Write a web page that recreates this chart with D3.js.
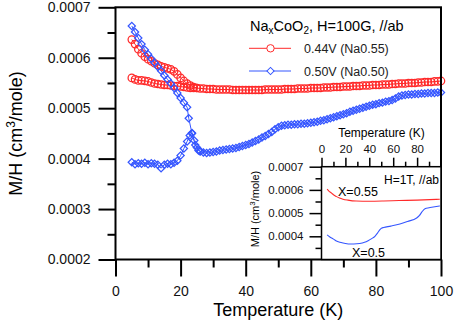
<!DOCTYPE html>
<html>
<head>
<meta charset="utf-8">
<style>
    body { margin: 0; background: #fff; }
    svg { display: block; font-family: 'Liberation Sans', Arial, sans-serif; }
    .axis .domain { display: none; }
    .main .tick line { stroke: #000; stroke-width: 2; }
    .main .tick text { font-size: 14px; fill: #111; }
    .inset .tick line { stroke: #000; stroke-width: 1.5; }
    .inset .tick text { font-size: 11.5px; fill: #111; }
</style>
</head>
<body>
<svg width="458" height="321"></svg>
<script src="https://d3js.org/d3.v7.min.js"></script>
<script>
// ---- main panel: 0.44V (Na0.55), red circles ----
let redLowT = [5, 6, 7, 8, 9, 10, 11, 12, 13, 14, 15, 16, 17, 18, 19, 20, 21, 22, 23, 24, 25]
let redLowV = [0.000560, 0.000557, 0.000555, 0.000555, 0.000554, 0.000553, 0.000551, 0.000549, 0.000548, 0.000547,
    0.000546, 0.000546, 0.000545, 0.000544, 0.000544, 0.000543, 0.000542, 0.000541, 0.000540, 0.000540, 0.000540]

let redHighT = [5, 6, 7, 8, 9, 10, 11, 12, 13, 14, 15, 16, 17, 18, 19, 20, 21, 22, 23, 24,
    25, 26, 27, 28, 29, 30, 31, 32, 33, 34, 35, 36, 37, 38, 39, 40, 41, 42, 43, 44, 45, 46, 47, 48, 49,
    50, 51, 52, 53, 54, 55, 56, 57, 58, 59, 60, 61, 62, 63, 64, 65, 66, 67, 68, 69, 70, 71, 72, 73, 74,
    75, 76, 77, 78, 79, 80, 81, 82, 83, 84, 85, 86, 87, 88, 89, 90, 91, 92, 93, 94, 95, 96, 97, 98, 99, 100]
let redHighV = [0.000636, 0.000627, 0.000617, 0.000609, 0.000602, 0.000597, 0.000593, 0.000589, 0.000586, 0.000583,
    0.000581, 0.000579, 0.000577, 0.000573, 0.000567, 0.000560, 0.000554, 0.000549, 0.000545, 0.000542,
    0.000540, 0.000539, 0.000539, 0.000538, 0.000538, 0.000538, 0.000537, 0.000537, 0.000537, 0.000537,
    0.000537, 0.000536, 0.000536, 0.000536, 0.000536, 0.000536, 0.000536, 0.000536, 0.000536, 0.000536,
    0.000536, 0.000537, 0.000537, 0.000537, 0.000537, 0.000537, 0.000537, 0.000538, 0.000538, 0.000538,
    0.000538, 0.000539, 0.000539, 0.000539, 0.000539, 0.000540, 0.000540, 0.000540, 0.000540, 0.000541,
    0.000541, 0.000541, 0.000542, 0.000542, 0.000542, 0.000543, 0.000543, 0.000543, 0.000544, 0.000544,
    0.000544, 0.000545, 0.000545, 0.000545, 0.000546, 0.000546, 0.000546, 0.000547, 0.000547, 0.000547,
    0.000548, 0.000548, 0.000549, 0.000549, 0.000549, 0.000550, 0.000550, 0.000550, 0.000551, 0.000551,
    0.000552, 0.000552, 0.000552, 0.000553, 0.000553, 0.000554]

// ---- main panel: 0.50V (Na0.50), blue diamonds ----
let blueLowT = [5, 6, 7, 8, 9, 10, 11, 12, 13, 14, 15, 16, 17, 18, 19, 20, 21, 22, 22.8, 23.5, 24.2, 25, 26]
let blueLowV = [0.000393, 0.000389, 0.000391, 0.000390, 0.000392, 0.000389, 0.000391, 0.000390, 0.000388, 0.000381,
    0.000388, 0.000390, 0.000389, 0.000392, 0.000396, 0.000406, 0.000420, 0.000434, 0.000446, 0.000451,
    0.000436, 0.000422, 0.000415]

let blueHighT = [5, 6, 7, 8, 9, 10, 11, 12, 13, 14, 15, 16, 17, 18, 19, 20, 21, 22, 22.5, 23.5, 24.5, 25.5,
    26, 27, 28, 29, 30, 31, 32, 33, 34, 35, 36, 37, 38, 39, 40, 41, 42, 43, 44, 45, 46, 47, 48, 49,
    50, 51, 52, 53, 54, 55, 56, 57, 58, 59, 60, 61, 62, 63, 64, 65, 66, 67, 68, 69, 70, 71, 72, 73, 74,
    75, 76, 77, 78, 79, 80, 81, 82, 83, 84, 85, 86, 87, 88, 89, 90, 91, 92, 93, 94, 95, 96, 97, 98, 99, 100]
let blueHighV = [0.000663, 0.000651, 0.000639, 0.000627, 0.000616, 0.000607, 0.000598, 0.000590, 0.000582, 0.000574,
    0.000565, 0.000557, 0.000549, 0.000540, 0.000530, 0.000520, 0.000511, 0.000502, 0.000480, 0.000450,
    0.000427, 0.000416,
    0.000414, 0.000412, 0.000411, 0.000412, 0.000413, 0.000414, 0.000416, 0.000417, 0.000418, 0.000419,
    0.000420, 0.000421, 0.000423, 0.000425, 0.000427, 0.000429, 0.000432, 0.000435, 0.000438, 0.000442,
    0.000445, 0.000449, 0.000453, 0.000458, 0.000462, 0.000465, 0.000466, 0.000467, 0.000467, 0.000468,
    0.000468, 0.000469, 0.000469, 0.000470, 0.000471, 0.000472, 0.000473, 0.000475, 0.000476, 0.000478,
    0.000480, 0.000482, 0.000484, 0.000486, 0.000488, 0.000490, 0.000493, 0.000495, 0.000497, 0.000499,
    0.000501, 0.000503, 0.000505, 0.000507, 0.000508, 0.000510, 0.000511, 0.000513, 0.000514, 0.000516,
    0.000519, 0.000523, 0.000525, 0.000526, 0.000527, 0.000527, 0.000528, 0.000528, 0.000529, 0.000529,
    0.000530, 0.000530, 0.000530, 0.000531, 0.000531]

// ---- inset: H=1T ----
let insetRedT = [4.7, 6, 8.4, 10, 12.6, 15, 18, 22, 29, 40, 52, 65, 80, 99]
let insetRedV = [0.000603, 0.000596, 0.000586, 0.000579, 0.000571, 0.000565, 0.000560, 0.000556, 0.000552,
    0.000551, 0.000552, 0.000554, 0.000556, 0.000560]
let insetBlueT = [4.7, 7, 9.7, 12, 15.3, 19, 22.3, 27, 32, 36, 39, 42, 44.7, 47, 48.9, 50.5, 52, 58, 65.6,
    72, 79.6, 82, 84, 86.6, 90, 93.5, 99]
let insetBlueV = [0.000406, 0.000397, 0.000389, 0.000381, 0.000374, 0.000370, 0.000367, 0.000367, 0.000369,
    0.000374, 0.000381, 0.000390, 0.000400, 0.000415, 0.000429, 0.000436, 0.000438, 0.000444, 0.000453,
    0.000464, 0.000479, 0.000490, 0.000505, 0.000519, 0.000523, 0.000526, 0.000531]

let xMajor = [0, 20, 40, 60, 80, 100]
let xMinor = [10, 30, 50, 70, 90]
let yMajor = [0.0002, 0.0003, 0.0004, 0.0005, 0.0006, 0.0007]
let yMinor = [0.00025, 0.00035, 0.00045, 0.00055, 0.00065]
let insetXMajor = [0, 20, 40, 60, 80]
let insetXMinor = [10, 30, 50, 70, 90]
let insetYMajor = [0.0004, 0.0005, 0.0006, 0.0007]
let insetYMinor = [0.00035, 0.00045, 0.00055, 0.00065]

let red = "#ff2a2a"
let blue = "#3556ff"

let svg = d3.select("svg")
let zip = (t, v) => t.map((d, i) => [d, v[i]])

let x = d3.scaleLinear().domain([0, 100]).range([115.5, 441])
let y = d3.scaleLinear().domain([0.0002, 0.0007]).range([259.5, 7.3])

let line = d3.line().x(d => x(d[0])).y(d => y(d[1]))

let plot = svg.append("g")

// thin connecting lines
let series = [
    { pts: zip(redHighT, redHighV), color: red, shape: "circle" },
    { pts: zip(redLowT, redLowV), color: red, shape: "circle" },
    { pts: zip(blueHighT, blueHighV), color: blue, shape: "diamond" },
    { pts: zip(blueLowT, blueLowV), color: blue, shape: "diamond" }
]

series.forEach(s => {
    plot.append("path")
        .attr("d", line(s.pts))
        .attr("fill", "none")
        .attr("stroke", s.color)
        .attr("stroke-width", 1)
})

let diamond = d3.symbol().type(d3.symbolSquare).size(26)

series.forEach(s => {
    if (s.shape == "circle") {
        plot.append("g").selectAll("circle")
            .data(s.pts)
            .join("circle")
            .attr("cx", d => x(d[0]))
            .attr("cy", d => y(d[1]))
            .attr("r", 3.7)
            .attr("fill", "none")
            .attr("stroke", s.color)
            .attr("stroke-width", 1.25)
    } else {
        plot.append("g").selectAll("path")
            .data(s.pts)
            .join("path")
            .attr("d", diamond)
            .attr("transform", d => "translate(" + x(d[0]) + "," + y(d[1]) + ") rotate(45)")
            .attr("fill", "none")
            .attr("stroke", s.color)
            .attr("stroke-width", 1.25)
    }
})

// main axes
let fmt = d3.format(".4f")

svg.append("g").attr("class", "axis main")
    .attr("transform", "translate(0,259.5)")
    .call(d3.axisBottom(x).tickValues(xMajor).tickSize(17).tickPadding(10))
svg.append("g").attr("class", "axis main")
    .attr("transform", "translate(0,259.5)")
    .call(d3.axisBottom(x).tickValues(xMinor).tickSize(8).tickFormat(""))
svg.append("g").attr("class", "axis main")
    .attr("transform", "translate(115.5,0)")
    .call(d3.axisLeft(y).tickValues(yMajor).tickSize(17).tickPadding(8).tickFormat(fmt))
svg.append("g").attr("class", "axis main")
    .attr("transform", "translate(115.5,0)")
    .call(d3.axisLeft(y).tickValues(yMinor).tickSize(8).tickFormat(""))

svg.append("rect")
    .attr("x", x(0)).attr("y", y(0.0007))
    .attr("width", x(100) - x(0)).attr("height", y(0.0002) - y(0.0007))
    .attr("fill", "none").attr("stroke", "#000").attr("stroke-width", 2)

svg.append("text")
    .attr("x", x(50)).attr("y", 316)
    .attr("text-anchor", "middle")
    .style("font-size", "18px")
    .text("Temperature (K)")

let ytitle = svg.append("text")
    .attr("transform", "translate(22,133.5) rotate(-90)")
    .attr("text-anchor", "middle")
    .style("font-size", "18px")
ytitle.append("tspan").text("M/H (cm")
ytitle.append("tspan").attr("dy", -7).style("font-size", "12px").text("3")
ytitle.append("tspan").attr("dy", 7).text("/mole)")

// legend
let leg = svg.append("text").attr("x", 250).attr("y", 31).style("font-size", "14.5px")
leg.append("tspan").text("Na")
leg.append("tspan").attr("dy", 3).style("font-size", "10px").text("x")
leg.append("tspan").attr("dy", -3).text("CoO")
leg.append("tspan").attr("dy", 3).style("font-size", "10px").text("2")
leg.append("tspan").attr("dy", -3).text(", H=100G, //ab")

let legItems = [
    { label: "0.44V (Na0.55)", color: red, shape: "circle", y: 48.3 },
    { label: "0.50V (Na0.50)", color: blue, shape: "diamond", y: 71 }
]
legItems.forEach(d => {
    svg.append("line")
        .attr("x1", 249).attr("x2", 291).attr("y1", d.y).attr("y2", d.y)
        .attr("stroke", d.color).attr("stroke-width", 1)
    if (d.shape == "circle") {
        svg.append("circle").attr("cx", 270.5).attr("cy", d.y).attr("r", 3.7)
            .attr("fill", "#fff").attr("stroke", d.color)
    } else {
        svg.append("path").attr("d", diamond)
            .attr("transform", "translate(270.5," + d.y + ") rotate(45)")
            .attr("fill", "#fff").attr("stroke", d.color)
    }
    svg.append("text").attr("x", 304).attr("y", d.y + 4.5)
        .style("font-size", "12.5px").style("fill", "#222")
        .text(d.label)
})

// ---- inset ----
let xi = d3.scaleLinear().domain([0, 100]).range([321.5, 441])
let yi = d3.scaleLinear().domain([0.0003, 0.0007]).range([259.5, 166.7])

svg.append("rect")
    .attr("x", xi(0)).attr("y", yi(0.0007))
    .attr("width", xi(100) - xi(0)).attr("height", yi(0.0003) - yi(0.0007))
    .attr("fill", "#fff").attr("stroke", "#000").attr("stroke-width", 1.5)

let iline = d3.line().x(d => xi(d[0])).y(d => yi(d[1])).curve(d3.curveMonotoneX)
svg.append("path").attr("d", iline(zip(insetRedT, insetRedV)))
    .attr("fill", "none").attr("stroke", red).attr("stroke-width", 1.1)
svg.append("path").attr("d", iline(zip(insetBlueT, insetBlueV)))
    .attr("fill", "none").attr("stroke", blue).attr("stroke-width", 1.1)

svg.append("g").attr("class", "axis inset")
    .attr("transform", "translate(0," + yi(0.0007) + ")")
    .call(d3.axisTop(xi).tickValues(insetXMajor).tickSize(9).tickPadding(5))
svg.append("g").attr("class", "axis inset")
    .attr("transform", "translate(0," + yi(0.0007) + ")")
    .call(d3.axisTop(xi).tickValues(insetXMinor).tickSize(5).tickFormat(""))
svg.append("g").attr("class", "axis inset")
    .attr("transform", "translate(" + xi(0) + ",0)")
    .call(d3.axisLeft(yi).tickValues(insetYMajor).tickSize(12).tickPadding(6).tickFormat(fmt))
svg.append("g").attr("class", "axis inset")
    .attr("transform", "translate(" + xi(0) + ",0)")
    .call(d3.axisLeft(yi).tickValues(insetYMinor).tickSize(6).tickFormat(""))

svg.append("text")
    .attr("x", 381.5).attr("y", 137)
    .attr("text-anchor", "middle")
    .style("font-size", "12px")
    .text("Temperature (K)")

let iytitle = svg.append("text")
    .attr("transform", "translate(259,209) rotate(-90)")
    .attr("text-anchor", "middle")
    .style("font-size", "11px")
iytitle.append("tspan").text("M/H (cm")
iytitle.append("tspan").attr("dy", -4).style("font-size", "8px").text("3")
iytitle.append("tspan").attr("dy", 4).text("/mole)")

svg.append("text").attr("x", 439).attr("y", 184)
    .attr("text-anchor", "end").style("font-size", "12px").text("H=1T, //ab")
svg.append("text").attr("x", 338).attr("y", 196)
    .style("font-size", "12.5px").text("X=0.55")
svg.append("text").attr("x", 352).attr("y", 257)
    .style("font-size", "12.5px").text("X=0.5")
</script>
</body>
</html>
